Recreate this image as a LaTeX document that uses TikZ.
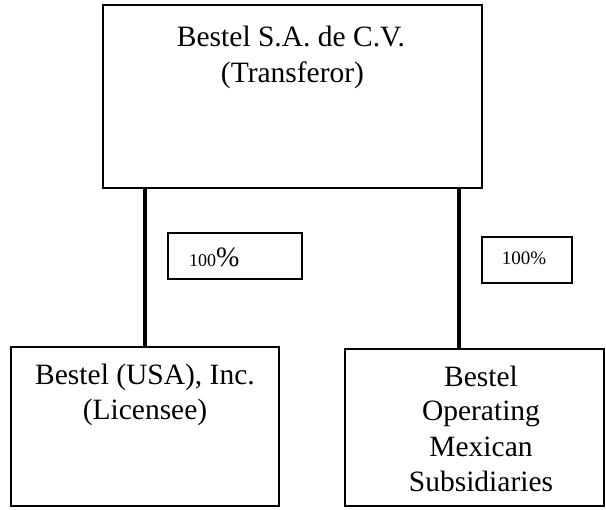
\documentclass[tikz,border=0pt]{standalone}
\usepackage{fontspec}
\setmainfont{Liberation Serif}
\begin{document}
\begin{tikzpicture}[x=1pt,y=-1pt,
  box/.style={draw=black, line width=2.4pt, fill=none, inner sep=0pt},
  pctbox/.style={draw=black, line width=1.2pt, inner sep=0pt},
  conn/.style={draw=black, line width=3.2pt},
  txt/.style={inner sep=0pt, font=\fontsize{29.5}{35}\selectfont},
  pct/.style={inner sep=0pt, font=\fontsize{19}{22}\selectfont}]
\useasboundingbox (0,0) rectangle (606,510);
% boxes
\node[box, minimum width=379pt, minimum height=183pt] (top) at (292.5,96.5) {};
\node[box, minimum width=268pt, minimum height=159pt] (lbox) at (145,426.5) {};
\node[box, minimum width=259pt, minimum height=157pt] (rbox) at (474.5,427.5) {};
\node[pctbox, minimum width=134pt, minimum height=46pt] (lp) at (235,256) {};
\node[pctbox, minimum width=90pt, minimum height=46pt] (rp) at (527,260) {};
% texts
\node[txt, anchor=base] (t1) at (291,47) {Bestel S.A. de C.V.};
\node[txt, anchor=base] (t2) at (292.5,83) {(Transferor)};
\node[txt, anchor=base] (l1) at (145,385) {Bestel (USA), Inc.};
\node[txt, anchor=base] (l2) at (145,420) {(Licensee)};
\node[txt, anchor=base] (r1) at (481,387) {Bestel};
\node[txt, anchor=base] (r2) at (481,421) {Operating};
\node[txt, anchor=base] (r3) at (481,457) {Mexican};
\node[txt, anchor=base] (r4) at (481,492) {Subsidiaries};
\node[inner sep=0pt, anchor=base west] (lpt) at (189,267) {\fontsize{18}{20}\selectfont 100\fontsize{28}{30}\selectfont\%};
\node[pct, anchor=base] (rpt) at (524,265) {100\%};
% connectors
\coordinate (rc) at (459,0);
\draw[conn] (top.south -| lbox.north) -- (lbox.north);
\draw[conn] (top.south -| rc) -- (rbox.north -| rc);
\end{tikzpicture}
\end{document}
